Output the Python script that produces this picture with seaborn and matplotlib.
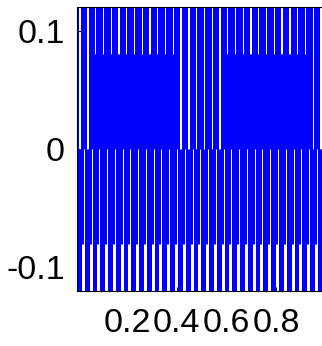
import pandas as pd
import seaborn as sns
import matplotlib.pyplot as plt

# dense signal drawn as near-vertical strokes, 32 cycles over t in [0, 1]
n_cycles = 32
first_gap = 0.01  # t of the first white gap in the top band

# cycles where the 0..0.08 band is left open (white gap runs down to 0)
open_cycles = [0, 1, 13, 14, 15, 16, 17, 18, 30, 31]

# strokes inside one cycle: offset (fraction of a cycle), lowest and highest value
stroke_offsets = [0.129, 0.258, 0.386, 0.515, 0.644, 0.773, 0.837]
stroke_low = [-0.2, -0.08, -0.08, 0.0, -0.2, -0.2, -0.2]
stroke_high = [0.2, 0.2, 0.2, 0.2, 0.2, 0.2, 0.2]

# strokes under the top-band gap: from the bottom up to 0, or up to 0.08
gap_offsets = [-0.077, 0.0, 0.077]
gap_low = -0.2
gap_high_open = 0.0
gap_high_filled = 0.08

x_ticks = [0.2, 0.4, 0.6, 0.8]
x_labels = ['0.2', '0.4', '0.6', '0.8']
y_ticks = [-0.1, 0.0, 0.1]
y_labels = ['-0.1', '0', '0.1']


def build_strokes():
    '''One unit per stroke, two points each'''
    rows = []
    unit = 0
    for k in range(-1, n_cycles + 1):
        start = first_gap + k / n_cycles
        for off, lo, hi in zip(stroke_offsets, stroke_low, stroke_high):
            t = start + off / n_cycles
            rows.append((unit, t, lo))
            rows.append((unit, t, hi))
            unit += 1
        top = gap_high_open if k in open_cycles else gap_high_filled
        for off in gap_offsets:
            t = start + off / n_cycles
            rows.append((unit, t, gap_low))
            rows.append((unit, t, top))
            unit += 1
    return pd.DataFrame(rows, columns=['unit', 't', 'value'])


sns.set_theme(style='white')
plt.rcParams['font.family'] = ['Liberation Sans', 'DejaVu Sans']
plt.rcParams['axes.unicode_minus'] = False

df = build_strokes()

fig = plt.figure(figsize=(3.22, 3.46), dpi=100)
ax = fig.add_axes([0.2400, 0.159, 0.7720, 0.8208])
sns.lineplot(
    data=df,
    x='t',
    y='value',
    units='unit',
    estimator=None,
    sort=False,
    color='#0000ff',
    linewidth=0.72,
    solid_capstyle='butt',
    snap=True,
    legend=False,
    ax=ax
)
ax.set_xlim(0, 1)
ax.set_ylim(-0.12, 0.12)
ax.set_xticks(x_ticks)
ax.set_xticklabels(x_labels)
ax.set_yticks(y_ticks)
ax.set_yticklabels(y_labels)
ax.set_xlabel('')
ax.set_ylabel('')
ax.tick_params(direction='in', length=3, width=0.7, colors='black',
               labelsize=24.5, top=True, right=True, bottom=True, left=True)
ax.tick_params(axis='x', pad=12)
ax.tick_params(axis='y', pad=9)
for spine in ax.spines.values():
    spine.set_color('black')
    spine.set_linewidth(0.8)

fig.savefig('out.png', dpi=100)
